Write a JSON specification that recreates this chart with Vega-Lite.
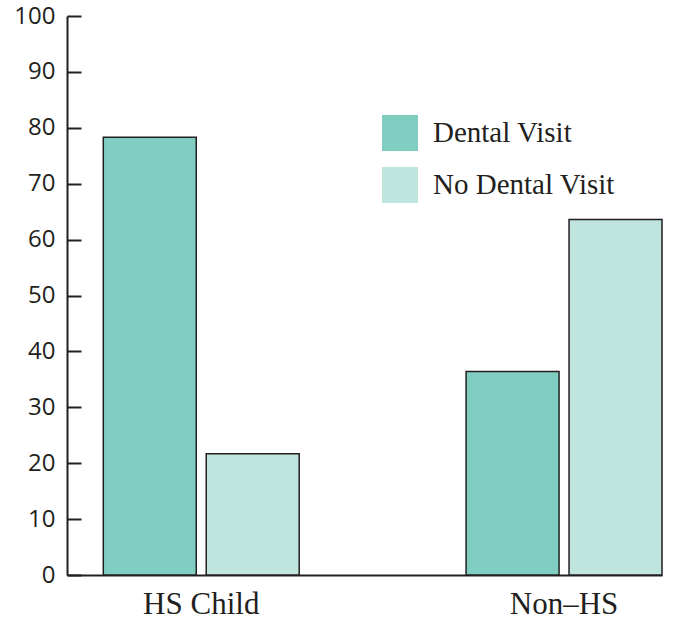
{
  "$schema": "https://vega.github.io/schema/vega-lite/v6.json",
  "width": 595,
  "height": 559,
  "autosize": {"type": "none"},
  "padding": {"left": 67, "top": 16, "right": 11, "bottom": 43},
  "background": "white",
  "data": {
    "values": [
      {"group": "HS Child", "visit": "Dental Visit", "pct": 78.3},
      {"group": "HS Child", "visit": "No Dental Visit", "pct": 21.7},
      {"group": "Non–HS", "visit": "Dental Visit", "pct": 36.4},
      {"group": "Non–HS", "visit": "No Dental Visit", "pct": 63.6}
    ]
  },
  "mark": {"type": "bar", "stroke": "#231f20", "strokeWidth": 1.5},
  "encoding": {
    "x": {
      "field": "group",
      "type": "nominal",
      "sort": ["HS Child", "Non–HS"],
      "scale": {"paddingInner": 0.46, "paddingOuter": 0.05, "align": 1},
      "axis": {
        "title": null,
        "labelAngle": 0,
        "ticks": false,
        "domainColor": "#231f20",
        "domainWidth": 2,
        "labelFont": "Liberation Serif",
        "labelFontSize": 31,
        "labelColor": "#231f20",
        "labelPadding": 14
      }
    },
    "xOffset": {
      "field": "visit",
      "type": "nominal",
      "scale": {"paddingInner": 0.097, "paddingOuter": 0}
    },
    "y": {
      "field": "pct",
      "type": "quantitative",
      "scale": {"domain": [0, 100], "nice": false},
      "axis": {
        "title": null,
        "grid": false,
        "values": [0, 10, 20, 30, 40, 50, 60, 70, 80, 90, 100],
        "tickSize": -14,
        "tickWidth": 2,
        "tickColor": "#231f20",
        "domainColor": "#231f20",
        "domainWidth": 2,
        "labelFont": "Open Sans",
        "labelFontSize": 24,
        "labelColor": "#231f20",
        "labelPadding": 26
      }
    },
    "color": {
      "field": "visit",
      "type": "nominal",
      "scale": {"domain": ["Dental Visit", "No Dental Visit"], "range": ["#80cec1", "#c0e5df"]},
      "legend": {
        "title": null,
        "orient": "none",
        "legendX": 315,
        "legendY": 99,
        "padding": 0,
        "symbolType": "square",
        "symbolSize": 1296,
        "symbolStrokeWidth": 0,
        "symbolOpacity": 1,
        "labelFont": "Liberation Serif",
        "labelFontSize": 29,
        "labelColor": "#231f20",
        "labelOffset": 15,
        "rowPadding": 16,
        "labelLimit": 300
      }
    }
  },
  "config": {"view": {"stroke": null}}
}
